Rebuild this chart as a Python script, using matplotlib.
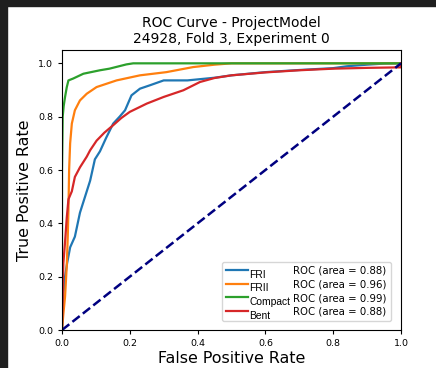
import matplotlib
matplotlib.use("Agg")
import matplotlib.pyplot as plt
import matplotlib.transforms as mtransforms
from matplotlib.lines import Line2D
from matplotlib.patches import Rectangle

# ROC curves per class (false positive rate, true positive rate)
classes = ["FRI", "FRII", "Compact", "Bent"]
aucs = [0.88, 0.96, 0.99, 0.88]

fri_fpr = [0, 0.003, 0.009, 0.015, 0.024, 0.038, 0.053, 0.068, 0.083, 0.097, 0.112,
           0.13, 0.151, 0.17, 0.186, 0.205, 0.23, 0.26, 0.30, 0.37, 0.45, 0.5, 0.6,
           0.7, 0.8, 0.84, 0.9, 0.95, 1.0]
fri_tpr = [0, 0.12, 0.20, 0.25, 0.31, 0.35, 0.44, 0.50, 0.56, 0.64, 0.67,
           0.72, 0.774, 0.80, 0.824, 0.88, 0.905, 0.918, 0.936, 0.936, 0.946, 0.955, 0.967,
           0.975, 0.982, 0.989, 0.995, 0.999, 1.0]

frii_fpr = [0, 0.004, 0.009, 0.014, 0.017, 0.019, 0.021, 0.024, 0.029, 0.038, 0.053,
            0.073, 0.102, 0.161, 0.23, 0.308, 0.387, 0.45, 0.5, 1.0]
frii_tpr = [0, 0.06, 0.125, 0.24, 0.35, 0.45, 0.60, 0.70, 0.774, 0.824, 0.861,
            0.886, 0.911, 0.936, 0.955, 0.967, 0.986, 0.995, 1.0, 1.0]

compact_fpr = [0, 0.0, 0.002, 0.005, 0.009, 0.014, 0.019, 0.033, 0.063, 0.112, 0.14,
               0.19, 0.21, 1.0]
compact_tpr = [0, 0.6, 0.8, 0.84, 0.874, 0.91, 0.936, 0.943, 0.961, 0.974, 0.98,
               0.996, 1.0, 1.0]

bent_fpr = [0, 0.002, 0.004, 0.009, 0.014, 0.019, 0.029, 0.038, 0.053, 0.073, 0.083,
            0.102, 0.125, 0.151, 0.175, 0.2, 0.25, 0.3, 0.358, 0.407, 0.45, 0.5, 0.6,
            0.7, 0.8, 0.9, 1.0, 1.0]
bent_tpr = [0, 0.12, 0.25, 0.33, 0.42, 0.49, 0.52, 0.574, 0.61, 0.65, 0.674,
            0.71, 0.74, 0.768, 0.795, 0.818, 0.849, 0.874, 0.899, 0.93, 0.945, 0.955, 0.966,
            0.974, 0.98, 0.983, 0.985, 1.0]

curves = [(fri_fpr, fri_tpr), (frii_fpr, frii_tpr),
          (compact_fpr, compact_tpr), (bent_fpr, bent_tpr)]
colors = ["#1f77b4", "#ff7f0e", "#2ca02c", "#d62728"]

W, H = 436, 368
fig = plt.figure(figsize=(W / 100, H / 100), dpi=100)
fig.patch.set_facecolor("white")
# dark frame strips along the top and left edges
fig.patches.append(Rectangle((0, 1 - 6 / H), 1, 6 / H, transform=fig.transFigure,
                             color="#1f1f1f", zorder=-10))
fig.patches.append(Rectangle((0, 0), 7 / W, 1, transform=fig.transFigure,
                             color="#1f1f1f", zorder=-10))

ax = fig.add_axes([62 / W, 38 / H, 339 / W, 280 / H])

handles = []
for (fpr, tpr), c in zip(curves, colors):
    ln, = ax.plot(fpr, tpr, color=c, lw=1.6)
    handles.append(ln)
ax.plot([0, 1], [0, 1], color="navy", lw=1.8, linestyle="--")

ax.set_xlim(0.0, 1.0)
ax.set_ylim(0.0, 1.05)
ax.set_xticks([0.0, 0.2, 0.4, 0.6, 0.8, 1.0])
ax.set_yticks([0.0, 0.2, 0.4, 0.6, 0.8, 1.0])
ax.tick_params(labelsize=6.8, length=3, width=0.8)
ax.set_xlabel("False Positive Rate", fontsize=11.4, labelpad=2)
ax.set_ylabel("True Positive Rate", fontsize=11.4, labelpad=4)
ax.set_title("ROC Curve - ProjectModel\n24928, Fold 3, Experiment 0", fontsize=10,
             pad=5, linespacing=1.15)

# legend: class names in the first column, AUC text in the second
blank = [Line2D([], [], color="none") for _ in classes]
roc_labels = ["ROC (area = %.2f)" % a for a in aucs]
leg = ax.legend(handles + blank, classes + roc_labels, ncol=2, loc="lower right",
                fontsize=7.3, handlelength=2.2, handletextpad=0.1,
                columnspacing=-2.0, labelspacing=0.36, borderpad=0.4,
                bbox_to_anchor=(0.985, 0.015))
shift = mtransforms.ScaledTranslation(0, -4 / 100, fig.dpi_scale_trans)
for t in leg.get_texts()[:4]:
    t.set_fontfamily("Liberation Sans")
    t.set_fontsize(7.4)
    t.set_transform(t.get_transform() + shift)

fig.savefig("out.png", dpi=100)
